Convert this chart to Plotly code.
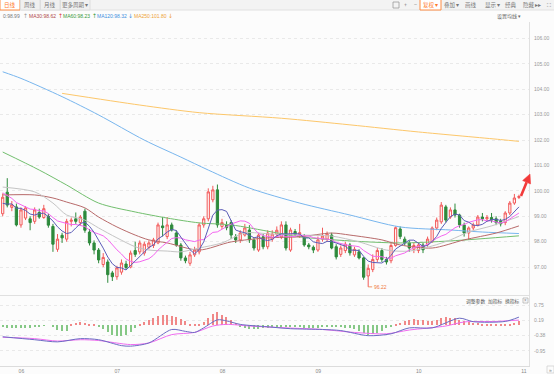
import plotly.graph_objects as go

W, H = 554, 374
def px(x): return x / W
def py(y): return 1 - y / H

# ---------------- data (daily candles, index 0 = first visible day) ----------------
open_ = [99.10, 99.95, 99.35, 99.37, 98.66, 98.93, 98.90, 98.80, 99.15, 98.95,
         99.00, 98.60, 97.70, 98.25, 98.10, 98.80, 98.90, 98.75, 99.20, 98.38,
         97.95, 97.67, 97.10, 97.20, 96.77, 96.62, 96.80, 97.12, 97.00, 97.65,
         97.60, 97.55, 97.78, 97.85, 97.95, 98.62, 98.20, 98.66, 98.34, 97.87,
         97.36, 97.15, 97.48, 97.60, 98.66, 98.90, 99.65, 100.04, 98.60, 98.65,
         98.75, 98.19, 98.07, 98.26, 98.46, 98.07, 97.67, 98.19, 97.80, 98.10,
         98.30, 98.19, 98.66, 97.67, 98.40, 98.30, 98.19, 97.87, 97.78, 97.67,
         98.10, 98.10, 98.26, 97.80, 97.50, 97.65, 97.87, 97.48, 97.60, 97.36,
         96.65, 96.90, 97.30, 97.65, 97.30, 97.25, 97.85, 98.50, 98.10, 97.95,
         97.70, 97.65, 97.87, 97.90, 98.00, 98.54, 98.78, 99.37, 98.97, 99.25,
         99.05, 98.66, 98.34, 98.54, 98.66, 98.97, 98.90, 98.95, 98.90, 98.80,
         98.75, 99.13, 99.52, 99.74]
high = [99.90, 100.50, 99.60, 99.50, 99.35, 99.40, 99.00, 99.35, 99.30, 99.45,
        99.10, 98.70, 98.30, 98.35, 98.90, 98.95, 99.15, 99.05, 99.30, 98.50,
        98.05, 97.75, 97.55, 97.30, 96.85, 97.05, 97.30, 97.25, 97.65, 98.00,
        98.05, 98.00, 98.05, 98.15, 98.75, 98.97, 98.97, 98.75, 98.45, 97.95,
        97.45, 97.60, 97.80, 98.75, 99.00, 100.10, 100.20, 100.25, 98.90, 98.80,
        98.85, 98.30, 98.45, 98.70, 98.65, 98.15, 98.35, 98.30, 98.45, 98.45,
        98.60, 98.80, 98.80, 98.55, 98.50, 98.70, 98.30, 97.95, 97.85, 98.20,
        98.55, 98.40, 98.35, 97.90, 97.85, 98.00, 97.95, 97.80, 97.70, 97.40,
        97.10, 97.50, 97.75, 97.75, 97.40, 97.95, 98.60, 98.60, 98.20, 98.05,
        97.95, 97.95, 97.95, 98.20, 98.60, 98.95, 99.56, 99.45, 99.35, 99.50,
        99.10, 98.75, 98.60, 98.75, 99.05, 99.13, 99.05, 99.13, 99.00, 98.90,
        99.20, 99.60, 99.88, 99.85]
low = [99.00, 99.35, 99.20, 98.60, 98.55, 98.85, 98.45, 98.70, 98.90, 98.90,
       98.55, 97.60, 97.60, 97.95, 98.00, 98.60, 98.70, 98.65, 98.35, 97.85,
       97.50, 97.15, 97.00, 96.38, 96.45, 96.50, 96.70, 96.90, 96.95, 97.40,
       97.50, 97.45, 97.70, 97.75, 97.90, 98.20, 98.10, 98.40, 97.80, 97.25,
       97.15, 97.05, 97.40, 97.50, 98.55, 98.80, 99.55, 98.55, 98.50, 98.45,
       98.10, 97.95, 97.95, 98.20, 97.95, 97.65, 97.60, 97.70, 97.70, 98.00,
       98.20, 98.10, 97.65, 97.60, 98.20, 98.15, 97.80, 97.70, 97.55, 97.60,
       98.00, 98.00, 97.70, 97.30, 97.40, 97.55, 97.45, 97.40, 97.30, 96.50,
       96.22, 96.80, 97.20, 97.20, 97.10, 97.15, 97.80, 98.10, 97.85, 97.60,
       97.55, 97.55, 97.55, 97.80, 97.95, 98.45, 98.70, 98.75, 98.90, 98.95,
       98.55, 98.20, 98.07, 98.45, 98.60, 98.80, 98.80, 98.75, 98.65, 98.60,
       98.65, 99.05, 99.45, 99.68]
close = [99.75, 99.44, 99.45, 98.66, 99.25, 99.33, 98.75, 99.25, 98.97, 99.30,
         98.65, 97.90, 98.10, 98.15, 98.80, 98.85, 98.80, 98.97, 98.45, 97.95,
         97.67, 97.28, 97.38, 96.70, 96.62, 96.97, 97.16, 96.98, 97.55, 97.50,
         97.95, 97.90, 97.95, 98.07, 98.66, 98.55, 98.66, 98.46, 97.87, 97.36,
         97.25, 97.48, 97.67, 98.66, 98.90, 99.96, 100.04, 98.66, 98.75, 98.55,
         98.26, 98.07, 98.34, 98.54, 98.07, 97.75, 98.26, 97.80, 98.34, 98.30,
         98.45, 98.66, 97.75, 98.46, 98.28, 98.35, 97.87, 97.80, 97.67, 98.07,
         98.22, 98.30, 97.75, 97.40, 97.75, 97.90, 97.56, 97.70, 97.36, 96.60,
         96.95, 97.30, 97.65, 97.30, 97.20, 97.85, 98.55, 98.20, 97.95, 97.75,
         97.85, 97.87, 97.68, 98.10, 98.54, 98.85, 99.44, 98.85, 99.25, 99.05,
         98.66, 98.34, 98.54, 98.66, 98.97, 98.90, 98.95, 98.85, 98.75, 98.70,
         99.13, 99.52, 99.72, 99.78]
# closes of the days just before the visible window (for MA5 / MA10)
prior_close = [100.6, 100.5, 100.3, 100.2, 100.1, 99.6, 99.4, 99.5, 99.3]

# longer moving averages (day index, value)
ma20_idx = [0, 7, 11, 14, 18, 21, 25, 29, 32, 36, 39, 43, 48, 53, 59, 65, 72, 78, 84, 89, 94, 98, 102, 107, 113]
ma20_val = [100.15, 99.96, 99.52, 99.05, 98.85, 98.54, 98.15, 97.80, 97.67, 97.63, 97.60, 97.75, 97.95,
            98.34, 98.30, 98.26, 98.22, 97.99, 97.67, 97.63, 97.83, 98.07, 98.38, 98.62, 98.99]
ma30_idx = [0, 7, 11, 14, 18, 21, 25, 29, 32, 36, 43, 50, 58, 65, 72, 76, 83, 87, 94, 101, 108, 113]
ma30_val = [99.84, 99.84, 99.72, 99.56, 99.33, 98.97, 98.58, 98.26, 98.07, 97.95, 97.67, 97.99, 98.15,
            98.19, 98.34, 98.26, 98.07, 97.87, 97.75, 98.07, 98.34, 98.62]
ma60_idx = [0, 8, 14, 21, 29, 36, 43, 50, 59, 65, 76, 87, 98, 113]
ma60_val = [101.53, 100.82, 100.23, 99.52, 99.17, 98.93, 98.74, 98.66, 98.38, 98.19, 98.03, 97.95, 98.03, 98.23]
ma120_idx = [0, 4, 13, 21, 31, 39, 45, 54, 65, 76, 87, 98, 105, 113]
ma120_val = [104.69, 104.43, 103.71, 102.99, 102.00, 101.33, 100.82, 100.11, 99.52, 99.05, 98.58, 98.46, 98.38, 98.32]
ma250_idx = [13, 30, 43, 61, 76, 91, 109, 113]
ma250_val = [103.84, 103.38, 103.08, 102.86, 102.60, 102.32, 102.02, 101.95]

# MACD panel
macd_hist = [-0.08, -0.10, -0.12, -0.12, -0.10, -0.10, -0.09, -0.07, -0.05, -0.02,
             0.00, -0.05, -0.18, -0.22, -0.20,
             0.05, 0.10, 0.12, 0.10, 0.06, 0.03,
             -0.05,
             -0.15, -0.25, -0.35, -0.40, -0.42, -0.35, -0.25,
             -0.10,
             0.05, 0.12, 0.20, 0.28, 0.34, 0.37, 0.38, 0.36, 0.30, 0.22, 0.15,
             0.06, 0.04, 0.05,
             0.12, 0.25, 0.40, 0.48, 0.38, 0.30, 0.18,
             0.08,
             -0.05, -0.10, -0.14, -0.16, -0.15, -0.12, -0.10, -0.08, -0.06, -0.05, -0.04,
             -0.05, -0.06, -0.08, -0.10, -0.12, -0.12, -0.10, -0.08, -0.06, -0.04, -0.05, -0.08,
             -0.10, -0.12, -0.15, -0.20, -0.28, -0.35, -0.33, -0.28, -0.20, -0.12, -0.05, 0.02,
             0.10, 0.15, 0.20, 0.22, 0.20, 0.18, 0.15, 0.14, 0.18, 0.25, 0.30, 0.28, 0.25, 0.20,
             0.15, 0.12, 0.10,
             0.08, 0.06, 0.05, 0.04, 0.05, 0.05, 0.04, 0.06, 0.10, 0.14]
dif_idx = [0, 7, 12, 17, 21, 26, 28, 32, 37, 40, 42, 44, 47, 49, 52, 58, 63, 70, 74, 80, 85, 89, 94, 100, 103, 110, 113]
dif_val = [-0.43, -0.54, -0.62, -0.50, -0.54, -0.76, -0.78, -0.66, -0.16, -0.23, -0.27, -0.10, 0.20, 0.16,
           0.03, -0.06, -0.13, -0.16, -0.20, -0.39, -0.32, -0.10, -0.10, 0.26, 0.13, 0.14, 0.30]
dea_idx = [0, 7, 12, 17, 21, 28, 32, 37, 42, 46, 49, 54, 62, 70, 77, 84, 89, 97, 101, 108, 113]
dea_val = [-0.45, -0.50, -0.59, -0.54, -0.57, -0.72, -0.66, -0.35, -0.27, -0.03, 0.03, -0.03, -0.10,
           -0.16, -0.27, -0.32, -0.18, -0.03, 0.12, 0.14, 0.19]

month_idx = [3, 24, 47, 68, 90, 113]
month_lbl = ["06", "07", "08", "09", "10", "11"]
price_ticks = [97, 98, 99, 100, 101, 102, 103, 104, 105, 106]
macd_ticks = [0.75, 0.19, -0.38, -0.95, -1.52]

# legend row: (text, arrow, text colour, arrow colour, left x in px)
legend_items = [("0:98.99", "↑", "#777777", "#999999", 0),
                ("MA30:98.62", "↑", "#b04848", "#e04040", 26),
                ("MA60:98.23", "↑", "#3a9a3a", "#3a9a3a", 60),
                ("MA120:98.32", "↓", "#3d8fe0", "#3d8fe0", 94),
                ("MA250:101.80", "↓", "#eea235", "#eea235", 131)]

# ---------------- derived ----------------
n = len(close)
idx = list(range(n))
full = prior_close + close
k = len(prior_close)
ma5 = [sum(full[i + k - 4:i + k + 1]) / 5 for i in range(n)]
ma10 = [sum(full[i + k - 9:i + k + 1]) / 10 for i in range(n)]

NUM = "Liberation Sans"
CJK = "Noto Sans CJK SC"
GRID = "#e9e9e9"

fig = go.Figure()
fig.add_trace(go.Candlestick(
    x=idx, open=open_, high=high, low=low, close=close,
    increasing=dict(line=dict(color="#f25a5a", width=1), fillcolor="#fff4f4"),
    decreasing=dict(line=dict(color="#2e8a3c", width=1), fillcolor="#2e8a3c"),
    whiskerwidth=0, hoverinfo="skip", xaxis="x", yaxis="y", showlegend=False))

def line(xs, ys, color, xa="x", ya="y", w=1.0, shape="spline"):
    fig.add_trace(go.Scatter(x=xs, y=ys, mode="lines", line=dict(color=color, width=w, shape=shape, smoothing=0.8),
                             hoverinfo="skip", showlegend=False, xaxis=xa, yaxis=ya))

line(ma250_idx, ma250_val, "#fcc76a")
line(ma120_idx, ma120_val, "#78b6ee")
line(ma60_idx, ma60_val, "#72bf6e")
line(ma30_idx, ma30_val, "#b86a6a")
line(ma20_idx, ma20_val, "#c4c4c4")
line(idx, ma10, "#f466f0", shape="linear")
line(idx, ma5, "#5c5cb8", shape="linear")

fig.add_trace(go.Bar(x=idx, y=macd_hist, width=0.25,
                     marker=dict(color=["#f08888" if v >= 0 else "#86c886" for v in macd_hist], line=dict(width=0)),
                     hoverinfo="skip", showlegend=False, xaxis="x2", yaxis="y2"))
line(dea_idx, dea_val, "#f06cf0", xa="x2", ya="y2")
line(dif_idx, dif_val, "#6c6cc4", xa="x2", ya="y2")

xr = [-0.59, 115.2]
yfont = dict(family=NUM, size=5, color="#999999")
fig.update_layout(
    width=W, height=H, margin=dict(l=0, r=0, t=0, b=0),
    paper_bgcolor="#fcfcfc", plot_bgcolor="#fcfcfc",
    hovermode=False, showlegend=False, bargap=0,
    xaxis=dict(domain=[0, px(529)], range=xr, anchor="y", showticklabels=False, showgrid=False,
               zeroline=False, showline=True, linecolor="#e0e0e0", rangeslider=dict(visible=False),
               fixedrange=True, ticks=""),
    xaxis2=dict(domain=[0, px(529)], range=xr, anchor="y2", matches="x", tickvals=month_idx,
                ticktext=month_lbl, tickfont=dict(family=NUM, size=5, color="#888888"),
                ticks="", ticklen=0, ticklabelstandoff=0,
                showgrid=False, zeroline=False, showline=True, linecolor="#dcdcdc",
                ticklabelshift=5, fixedrange=True),
    yaxis=dict(domain=[py(295), py(22)], range=[95.9, 106.65], anchor="x", side="right",
               tickvals=price_ticks, ticktext=[f"{v:.2f}" for v in price_ticks],
               tickfont=yfont, ticks="", ticklen=0, ticklabelstandoff=3,
               showgrid=True, gridcolor=GRID, griddash="dot", zeroline=False,
               showline=True, linecolor="#e0e0e0", fixedrange=True),
    yaxis2=dict(domain=[py(366), py(296)], range=[-1.517, 1.085], anchor="x2", side="right",
                tickvals=macd_ticks, ticktext=[f"{v:.2f}" for v in macd_ticks],
                tickfont=yfont, ticks="", ticklen=0, ticklabelstandoff=3,
                showgrid=True, gridcolor=GRID, griddash="dot", zeroline=False,
                showline=True, linecolor="#e0e0e0", fixedrange=True),
)

shapes = []
ann = []
# toolbar strip
shapes.append(dict(type="rect", xref="paper", yref="paper", x0=0, x1=1, y0=py(10), y1=1,
                   fillcolor="#f3f3f3", line=dict(width=0), layer="below"))
shapes.append(dict(type="line", xref="paper", yref="paper", x0=0, x1=1, y0=py(10), y1=py(10),
                   line=dict(color="#e0e0e0", width=1)))

def button(x0, x1, text, active=False, border=True):
    if border:
        shapes.append(dict(type="rect", xref="paper", yref="paper", x0=px(x0), x1=px(x1), y0=py(10), y1=py(-1),
                           fillcolor="#ffffff" if active else "#f0f0f0",
                           line=dict(color="#ff8c42" if active else "#dedede", width=1)))
    ann.append(dict(xref="paper", yref="paper", x=px((x0 + x1) / 2), y=py(5), text=text, showarrow=False,
                    font=dict(family=CJK, size=5.5, color="#ff7a2a" if active else "#777777"),
                    xanchor="center", yanchor="middle"))

button(0, 20, "日线", active=True)
button(20.5, 40, "周线")
button(40.5, 60, "月线")
button(60.5, 90, "更多周期 ▾")
shapes.append(dict(type="rect", xref="paper", yref="paper", x0=px(393), x1=px(399), y0=py(8), y1=py(2),
                   line=dict(color="#999999", width=0.8)))
button(401, 409, "+", border=False)
button(411, 419, "−", border=False)
button(420, 441, "复权 ▾", active=True)
button(442, 461, "叠加 ▾", border=False)
button(462, 480, "画线", border=False)
button(482, 502, "显示 ▾", border=False)
button(503, 519, "经典", border=False)
button(520, 544, "隐藏 ▸▸", border=False)
button(545, 553, "⛶", border=False)

# MA legend row
for lab, arr, col, acol, x0 in legend_items:
    w = 5 * 0.56 * len(lab) - 0.5
    ann.append(dict(xref="paper", yref="paper", x=px(x0 + 0.5), y=py(15.5), text=lab, showarrow=False,
                    font=dict(family=NUM, size=5, color=col), xanchor="left", yanchor="middle"))
    ann.append(dict(xref="paper", yref="paper", x=px(x0 + w + 2), y=py(15.5), text=arr, showarrow=False,
                    font=dict(family="DejaVu Sans", size=6, color=acol), xanchor="left", yanchor="middle"))
ann.append(dict(xref="paper", yref="paper", x=px(523), y=py(15.5), text="设置均线 ▾", showarrow=False,
                font=dict(family=CJK, size=5, color="#666666"), xanchor="right", yanchor="middle"))

# MACD panel header
for x0, t in [(464, "调整参数"), (486, "加指标"), (503, "换指标")]:
    ann.append(dict(xref="paper", yref="paper", x=px(x0), y=py(300.5), text=t, showarrow=False,
                    font=dict(family=CJK, size=4.8, color="#555555"), xanchor="left", yanchor="middle"))
shapes.append(dict(type="rect", xref="paper", yref="paper", x0=px(523), x1=px(528), y0=py(303), y1=py(298),
                   line=dict(color="#aaaaaa", width=0.7)))
ann.append(dict(xref="paper", yref="paper", x=px(525.5), y=py(300.5), text="×", showarrow=False,
                font=dict(family=NUM, size=4.5, color="#888888"), xanchor="center", yanchor="middle"))
shapes.append(dict(type="rect", xref="paper", yref="paper", x0=px(547), x1=px(554), y0=py(373), y1=py(366),
                   line=dict(color="#cccccc", width=0.7)))
ann.append(dict(xref="paper", yref="paper", x=px(550.5), y=py(369.5), text="»", showarrow=False,
                font=dict(family=NUM, size=5, color="#888888"), xanchor="center", yanchor="middle"))

# lowest price marker
lo_i = low.index(min(low))
ann.append(dict(xref="x", yref="y", x=lo_i, y=low[lo_i], text=f"{low[lo_i]:.2f}", showarrow=True,
                arrowhead=0, arrowwidth=0.8, arrowcolor="#f07a40", ax=4, ay=0, xanchor="left",
                yanchor="middle", font=dict(family=NUM, size=5, color="#f07a40")))

# red up arrow after the last candle (drawn as a shaft plus a triangular head)
tail, base, tip = (521, 196), (526.6, 182.3), (530, 174)
shapes.append(dict(type="line", xref="paper", yref="paper", x0=px(tail[0]), y0=py(tail[1]),
                   x1=px(base[0]), y1=py(base[1]), line=dict(color="#f23a3a", width=2.6)))
head = [(530.6, 184.0), tip, (522.6, 180.6)]
path = "M " + " L ".join(f"{px(a):.5f},{py(b):.5f}" for a, b in head) + " Z"
shapes.append(dict(type="path", xref="paper", yref="paper", path=path,
                   fillcolor="#f23a3a", line=dict(color="#f23a3a", width=0.5)))

fig.update_layout(shapes=shapes, annotations=ann)
fig.write_html("out.html", config={"displayModeBar": False},
               post_script="document.body.style.margin='0';document.body.style.overflow='hidden';")
